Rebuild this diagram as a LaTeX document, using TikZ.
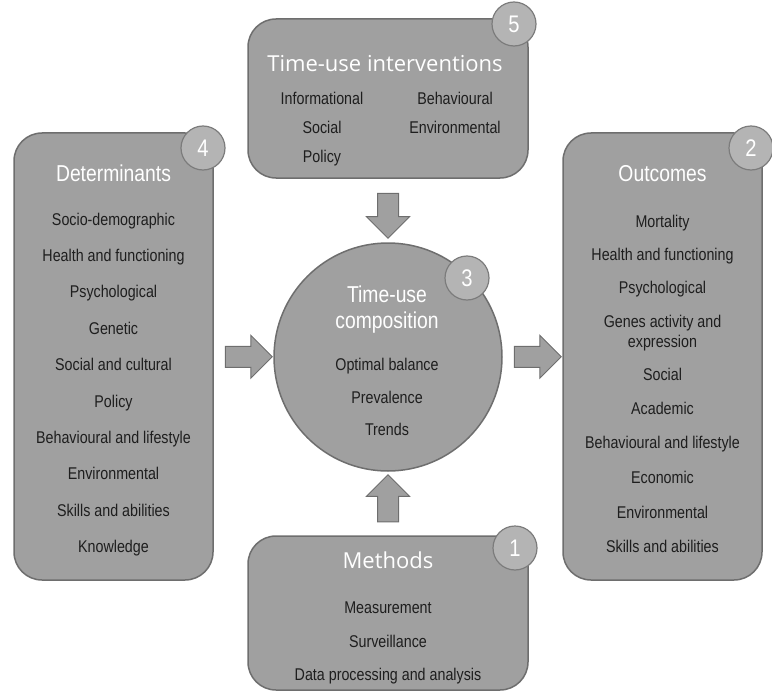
\documentclass[tikz,border=0pt]{standalone}
\usepackage{fontspec}
\usepackage{tikz}
\usetikzlibrary{positioning,calc,shapes.arrows}

\newfontfamily\itemfont{Liberation Sans}[FakeStretch=0.84]
\newfontfamily\headfont{Open Sans}

\definecolor{boxgray}{HTML}{A0A0A0}
\definecolor{boxline}{HTML}{6E6E6E}
\definecolor{badgegray}{HTML}{B4B4B4}
\definecolor{badgeline}{HTML}{7C7C7C}
\definecolor{itemtext}{HTML}{1E1E1E}

\begin{document}
\begin{tikzpicture}[x=1pt,y=-1pt,
  box/.style={draw=boxline,fill=boxgray,line width=1.5pt,rounded corners=28pt,inner sep=0pt},
  badge/.style={circle,draw=badgeline,fill=badgegray,line width=1.2pt,
    minimum size=44pt,inner sep=0pt,text=white,font=\itemfont\fontsize{24}{24}\selectfont},
  title/.style={anchor=base,inner sep=0pt,text=white,font=\itemfont\fontsize{23}{23}\selectfont},
  head title/.style={anchor=base,inner sep=0pt,text=white,font=\headfont\fontsize{22}{22}\selectfont},
  item/.style={anchor=base,inner sep=0pt,text=itemtext,font=\itemfont\fontsize{17}{17}\selectfont},
  fat arrow/.style={single arrow,draw=boxline,fill=boxgray,line width=1pt,
    inner xsep=0pt,inner ysep=10pt,single arrow head extend=11pt,minimum height=47pt},
  fat arrow v/.style={fat arrow,inner xsep=10pt,inner ysep=0pt}]

  \useasboundingbox (0,0) rectangle (772,693);

  % main blocks
  \node[box,minimum width=199pt,minimum height=447pt] (det) at (113.5,356.5) {};
  \node[box,minimum width=199pt,minimum height=447pt] (out) at (662.5,356.5) {};
  \node[box,minimum width=280pt,minimum height=159pt] (int) at (388,98.5) {};
  \node[box,minimum width=280pt,minimum height=154pt] (meth) at (388,613) {};
  \node[circle,draw=boxline,fill=boxgray,line width=1.5pt,minimum size=228pt] (comp) at (388,357) {};

  % block arrows
  \node[fat arrow] (a-det) at ($(det.east)!0.5!(comp.west)$) {};
  \node[fat arrow] (a-out) at ($(comp.east)!0.5!(out.west)$) {};
  \node[fat arrow v,shape border rotate=270,minimum height=45pt] (a-int) at ($(int.south)!0.5!(comp.north)$) {};
  \node[fat arrow v,shape border rotate=90] (a-meth) at ($(meth.north)!0.5!(comp.south)$) {};

  % determinants
  \node[title] (det-title) at (113.5,182) {Determinants};
  \foreach \txt [count=\i from 0] in {Socio-demographic,Health and functioning,Psychological,
      Genetic,Social and cultural,Policy,Behavioural and lifestyle,Environmental,
      Skills and abilities,Knowledge}
    \node[item] (det-\i) at (113.5,225+36.4*\i) {\txt};

  % outcomes
  \node[title] (out-title) at (662.5,182) {Outcomes};
  \foreach \txt/\yy [count=\i] in {Mortality/227,Health and functioning/260,Psychological/293,
      Genes activity and/327,expression/347,Social/380,Academic/414,
      Behavioural and lifestyle/448,Economic/483,Environmental/518,Skills and abilities/552}
    \node[item] (out-\i) at (662.5,\yy) {\txt};

  % interventions
  \node[head title] (int-title) at (385,72) {Time-use interventions};
  \node[item] (int-1) at (322,105) {Informational};
  \node[item] (int-2) at (322,133) {Social};
  \node[item] (int-3) at (322,162) {Policy};
  \node[item] (int-4) at (455,105) {Behavioural};
  \node[item] (int-5) at (455,133) {Environmental};

  % composition
  \node[title] (comp-title1) at (387,302) {Time-use};
  \node[title] (comp-title2) at (387,328) {composition};
  \node[item] (comp-1) at (387,370) {Optimal balance};
  \node[item] (comp-2) at (387,403) {Prevalence};
  \node[item] (comp-3) at (387,435) {Trends};

  % methods
  \node[head title] (meth-title) at (388,568) {Methods};
  \node[item] (meth-1) at (388,613) {Measurement};
  \node[item] (meth-2) at (388,647) {Surveillance};
  \node[item] (meth-3) at (388,680) {Data processing and analysis};

  % numbers
  \node[badge] (b1) at (515,548) {1};
  \node[badge] (b2) at (751,148) {2};
  \node[badge] (b3) at (467,278) {3};
  \node[badge] (b4) at (203,148) {4};
  \node[badge] (b5) at (514,24) {5};
\end{tikzpicture}
\end{document}
